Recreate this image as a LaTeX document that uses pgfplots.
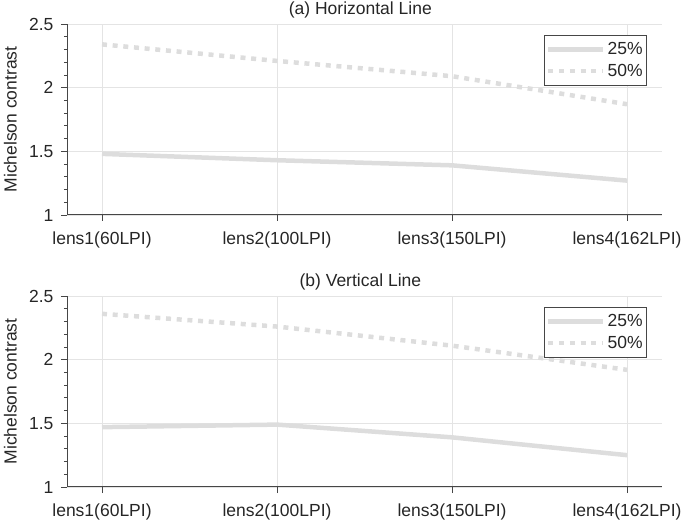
\documentclass[border=0pt]{standalone}
\usepackage{pgfplots}
\pgfplotsset{compat=1.18}
\usepackage{fontspec}
\setmainfont{Liberation Sans}

\definecolor{linegray}{RGB}{221,221,221}
\definecolor{gridgray}{RGB}{228,228,228}
\definecolor{axiscol}{RGB}{70,70,70}
\definecolor{textcol}{RGB}{38,38,38}

\newcommand{\chartfont}{\fontsize{17.5}{20}\selectfont}

% horizontal line pattern
\pgfplotstableread{
x c25 c50
0 1.48 2.34
1 1.43 2.21
2 1.39 2.09
3 1.27 1.87
}\horiz
% vertical line pattern
\pgfplotstableread{
x c25 c50
0 1.47 2.36
1 1.49 2.26
2 1.39 2.11
3 1.25 1.92
}\vert

\pgfplotsset{
  lensaxis/.style={
    scale only axis, width=595pt, height=191pt,
    xmin=-0.2, xmax=3.2, ymin=1, ymax=2.5,
    xtick={0,1,2,3},
    xticklabels={lens1(60LPI),lens2(100LPI),lens3(150LPI),lens4(162LPI)},
    ytick={1,1.5,2,2.5}, yticklabels={1,1.5,2,2.5},
    minor y tick num=4,
    axis x line*=bottom, axis y line*=left,
    grid=major, major grid style={gridgray, line width=0.7pt},
    tick align=outside, major tick length=6pt, minor tick length=3pt,
    tick style={axiscol, line width=0.8pt},
    axis line style={axiscol, line width=1pt},
    every tick label/.append style={font=\chartfont, text=textcol},
    xticklabel style={yshift=-7pt},
    yticklabel style={xshift=-4pt},
    ylabel={Michelson contrast},
    ylabel style={at={(axis description cs:-0.095,0.5)}, anchor=center, font=\chartfont, text=textcol},
    title style={at={(axis description cs:0.493,1)}, anchor=center, yshift=8pt, font=\chartfont, text=textcol},
    legend style={at={(axis description cs:0.975,0.942)}, anchor=north east,
      draw=axiscol, line width=0.8pt, fill=white, font=\chartfont, text=textcol,
      inner xsep=2pt, inner ysep=5pt, row sep=4pt,
      nodes={inner sep=2pt}},
    legend cell align=right,
    legend image code/.code={\draw[#1] (0pt,0pt) -- (55pt,0pt);},
  },
  s25/.style={linegray, line width=4.5pt, line cap=butt},
  s50/.style={linegray, line width=4.5pt, line cap=butt, dash pattern=on 5pt off 5.7pt},
}

\begin{document}
\begin{tikzpicture}
\useasboundingbox (0,0) rectangle (685pt,524pt);
\begin{axis}[lensaxis, at={(67pt,309pt)}, anchor=south west, title={(a) Horizontal Line}]
  \addplot[s25] table[x=x, y=c25] {\horiz};
  \addplot[s50] table[x=x, y=c50] {\horiz};
  \legend{25\%, 50\%}
\end{axis}
\begin{axis}[lensaxis, at={(67pt,37pt)}, anchor=south west, title={(b) Vertical Line}]
  \addplot[s25] table[x=x, y=c25] {\vert};
  \addplot[s50] table[x=x, y=c50] {\vert};
  \legend{25\%, 50\%}
\end{axis}
\end{tikzpicture}
\end{document}
